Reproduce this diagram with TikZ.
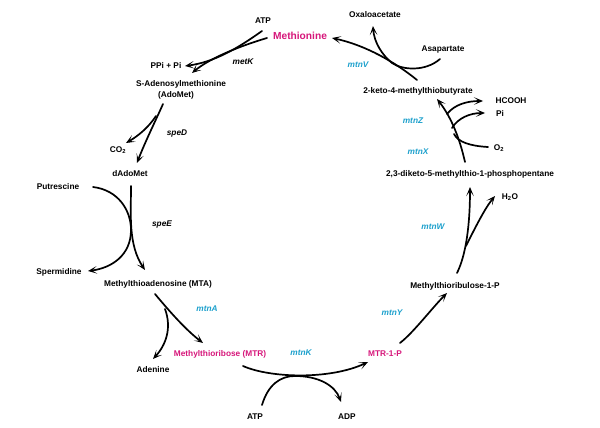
\documentclass[tikz,border=0pt]{standalone}
\usepackage{fontspec}
\setmainfont{Liberation Sans}
\usetikzlibrary{arrows.meta}
\definecolor{enz}{RGB}{28,160,204}
\definecolor{mag}{RGB}{214,22,122}
\tikzset{
  lbl/.style={font=\fontsize{8.3}{9}\selectfont\bfseries, inner sep=0pt, text height=6pt, text depth=0pt},
  enzl/.style={font=\fontsize{8.3}{9}\selectfont\bfseries\itshape, inner sep=0pt, text height=6pt, text depth=0pt, text=enz},
  genel/.style={font=\fontsize{8.3}{9}\selectfont\bfseries\itshape, inner sep=0pt, text height=6pt, text depth=0pt},
  keyl/.style={lbl, text=mag},
  bigl/.style={font=\fontsize{10.2}{11}\selectfont\bfseries, inner sep=0pt, text height=7.3pt, text depth=0pt, text=mag},
  arr/.style={line width=1.7pt, line cap=round, -{Stealth[length=9pt,width=7.5pt,inset=5pt]}},
  ln/.style={line width=1.7pt, line cap=round}
}
\begin{document}
\begin{tikzpicture}[x=1pt,y=-1pt]
\useasboundingbox (0,0) rectangle (600,428);
% labels
\node[lbl]   (atp1)   at (263,21)  {ATP};
\node[bigl]  (met)    at (300,36)  {Methionine};
\node[genel] (metK)   at (243,62)  {metK};
\node[lbl]   (ppi)    at (166,66)  {PPi + Pi};
\node[lbl]   (sam)    at (181,83)  {S-Adenosylmethionine};
\node[lbl]   (adomet) at (176,95)  {(AdoMet)};
\node[genel] (speD)   at (177,132) {speD};
\node[lbl]   (co2)    at (118,149) {CO\textsubscript{2}};
\node[lbl]   (dado)   at (130,173) {dAdoMet};
\node[lbl]   (put)    at (58,186)  {Putrescine};
\node[genel] (speE)   at (162,223) {speE};
\node[lbl]   (spd)    at (59,271)  {Spermidine};
\node[lbl]   (mta)    at (158,283) {Methylthioadenosine (MTA)};
\node[enzl]  (mtnA)   at (207,308) {mtnA};
\node[keyl]  (mtr)    at (220,353) {Methylthioribose (MTR)};
\node[lbl]   (ade)    at (153,369) {Adenine};
\node[enzl]  (mtnK)   at (301,352) {mtnK};
\node[keyl]  (mtrp)   at (385,353) {MTR-1-P};
\node[lbl]   (atp2)   at (255,416) {ATP};
\node[lbl]   (adp)    at (347,416) {ADP};
\node[enzl]  (mtnY)   at (392,312) {mtnY};
\node[lbl]   (mtrup)  at (455,285) {Methylthioribulose-1-P};
\node[enzl]  (mtnW)   at (433,226) {mtnW};
\node[lbl]   (h2o)    at (510,196) {H\textsubscript{2}O};
\node[lbl]   (dk)     at (470,173) {2,3-diketo-5-methylthio-1-phosphopentane};
\node[enzl]  (mtnX)   at (418,151) {mtnX};
\node[lbl]   (o2)     at (499,147) {O\textsubscript{2}};
\node[enzl]  (mtnZ)   at (413,121) {mtnZ};
\node[lbl]   (pi)     at (500,114) {Pi};
\node[lbl]   (hcooh)  at (511,100) {HCOOH};
\node[lbl]   (kmtb)   at (418,90)  {2-keto-4-methylthiobutyrate};
\node[enzl]  (mtnV)   at (358,65)  {mtnV};
\node[lbl]   (asp)    at (443,49)  {Asapartate};
\node[lbl]   (oxa)    at (375,15)  {Oxaloacetate};
% connector ends
\coordinate (a1) at (267,38);  \coordinate (a2) at (192,73);
\coordinate (b1) at (262,31);  \coordinate (b2) at (185,66);
\coordinate (c1) at (163,104); \coordinate (c2) at (137,163);
\coordinate (c3) at (156,116); \coordinate (c4) at (126,143);
\coordinate (d1) at (131,186); \coordinate (d2) at (145,270);
\coordinate (e1) at (93,187);  \coordinate (e2) at (131,230); \coordinate (e3) at (88,271);
\coordinate (f1) at (155,294); \coordinate (f2) at (203,343);
\coordinate (f3) at (165,309); \coordinate (f4) at (153,359);
\coordinate (g1) at (243,366); \coordinate (g2) at (368,362);
\coordinate (h1) at (262,405); \coordinate (h2) at (295,376); \coordinate (h3) at (341,402);
\coordinate (i1) at (400,343); \coordinate (i2) at (447,293);
\coordinate (j1) at (457,273); \coordinate (j2) at (470,187);
\coordinate (j3) at (466,246); \coordinate (j4) at (495,196);
\coordinate (k1) at (465,162); \coordinate (k2) at (437,99);
\coordinate (k3) at (488,147); \coordinate (k4) at (454,134);
\coordinate (k5) at (447,114); \coordinate (k6) at (483,101);
\coordinate (k7) at (452,128); \coordinate (k8) at (485,113);
\coordinate (l1) at (417,80);  \coordinate (l2) at (332,38);
\coordinate (m1) at (440,59);  \coordinate (m2) at (392,63);  \coordinate (m3) at (373,26);
% metK
\draw[arr] (a1) .. controls (240,46) and (210,58) .. (a2);
\draw[arr] (b1) .. controls (238,48) and (215,62) .. (b2);
% speD
\draw[arr] (c1) .. controls (155,122) and (145,142) .. (c2);
\draw[arr] (c3) .. controls (148,128) and (138,136) .. (c4);
% speE
\draw[arr] (d1) .. controls (131,215) and (128,245) .. (d2);
\draw[arr] (e1) .. controls (118,190) and (131,210) .. (e2) .. controls (131,255) and (112,268) .. (e3);
% mtnA
\draw[arr] (f1) .. controls (170,312) and (186,330) .. (f2);
\draw[arr] (f3) .. controls (172,328) and (166,345) .. (f4);
% mtnK
\draw[arr] (g1) .. controls (270,378) and (330,380) .. (g2);
\draw[arr] (h1) .. controls (268,385) and (280,376) .. (h2) .. controls (318,376) and (335,385) .. (h3);
% mtnY
\draw[arr] (i1) .. controls (414,332) and (432,308) .. (i2);
% mtnW
\draw[arr] (j1) .. controls (466,255) and (470,225) .. (j2);
\draw[arr] (j3) .. controls (475,228) and (485,208) .. (j4);
% mtnX / mtnZ
\draw[arr] (k1) .. controls (460,140) and (452,118) .. (k2);
\draw[ln]  (k3) .. controls (470,146) and (458,142) .. (k4);
\draw[arr] (k5) .. controls (455,104) and (468,101) .. (k6);
\draw[arr] (k7) .. controls (458,118) and (470,113) .. (k8);
% mtnV
\draw[arr] (l1) .. controls (395,62) and (365,45) .. (l2);
\draw[ln]  (m1) .. controls (425,72) and (402,70) .. (m2);
\draw[arr] (m2) .. controls (382,55) and (374,42) .. (m3);
\end{tikzpicture}
\end{document}
